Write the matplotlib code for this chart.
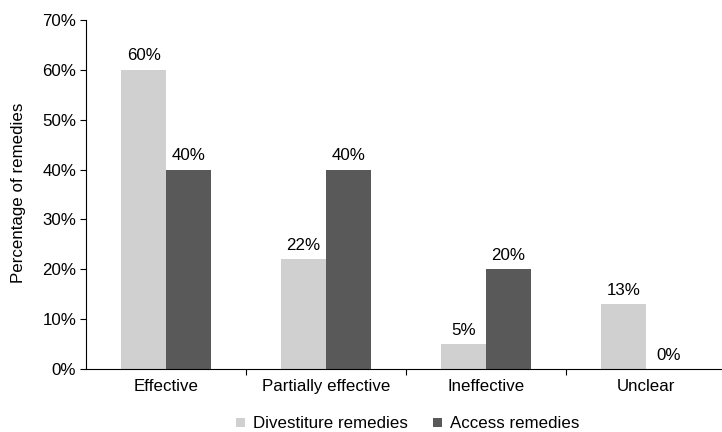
import matplotlib.pyplot as plt
import numpy as np

plt.rcParams['font.family'] = ['Liberation Sans', 'DejaVu Sans']

categories = ['Effective', 'Partially effective', 'Ineffective', 'Unclear']
divestiture = [60, 22, 5, 13]
access = [40, 40, 20, 0]

x = np.arange(len(categories))
w = 0.28
fs = 12.2

fig = plt.figure(figsize=(7.22, 4.32), dpi=100)
# axes runs a bit past the right edge, like the original export
ax = fig.add_axes([86 / 722, 63 / 432, 640 / 722, 349 / 432])

b1 = ax.bar(x - w / 2, divestiture, w, color='#d0d0d0', label='Divestiture remedies')
b2 = ax.bar(x + w / 2, access, w, color='#595959', label='Access remedies')

for bars in (b1, b2):
    for b in bars:
        ax.text(b.get_x() + b.get_width() / 2, b.get_height() + 1.3,
                f'{b.get_height():.0f}%', ha='center', va='bottom', fontsize=fs)

ax.set_xlim(-0.5, 3.5)
ax.set_ylim(0, 70)
ax.set_yticks(range(0, 71, 10))
ax.set_yticklabels([f'{v}%' for v in range(0, 71, 10)], fontsize=fs)
ax.set_xticks([0.5, 1.5, 2.5])
ax.set_xticklabels([])
ax.set_xticks(x, minor=True)
ax.set_xticklabels(categories, minor=True, fontsize=fs)
ax.tick_params(axis='x', which='minor', length=0, pad=7)
ax.tick_params(axis='x', which='major', length=4, direction='out')
ax.tick_params(axis='y', length=4, direction='out', pad=3)

for s in ('top', 'right'):
    ax.spines[s].set_visible(False)
ax.spines['left'].set_linewidth(0.8)
ax.spines['bottom'].set_linewidth(0.8)

fig.text(19 / 722, 1 - 193 / 432, 'Percentage of remedies', rotation=90,
         ha='center', va='center', fontsize=fs)

fig.legend(handles=[b1, b2], loc='center', bbox_to_anchor=(408 / 722, 1 - 424 / 432),
           ncol=2, frameon=False, fontsize=fs, handlelength=0.5, handleheight=0.5,
           handletextpad=0.5, columnspacing=1.5)

fig.savefig('out.png', dpi=100)
